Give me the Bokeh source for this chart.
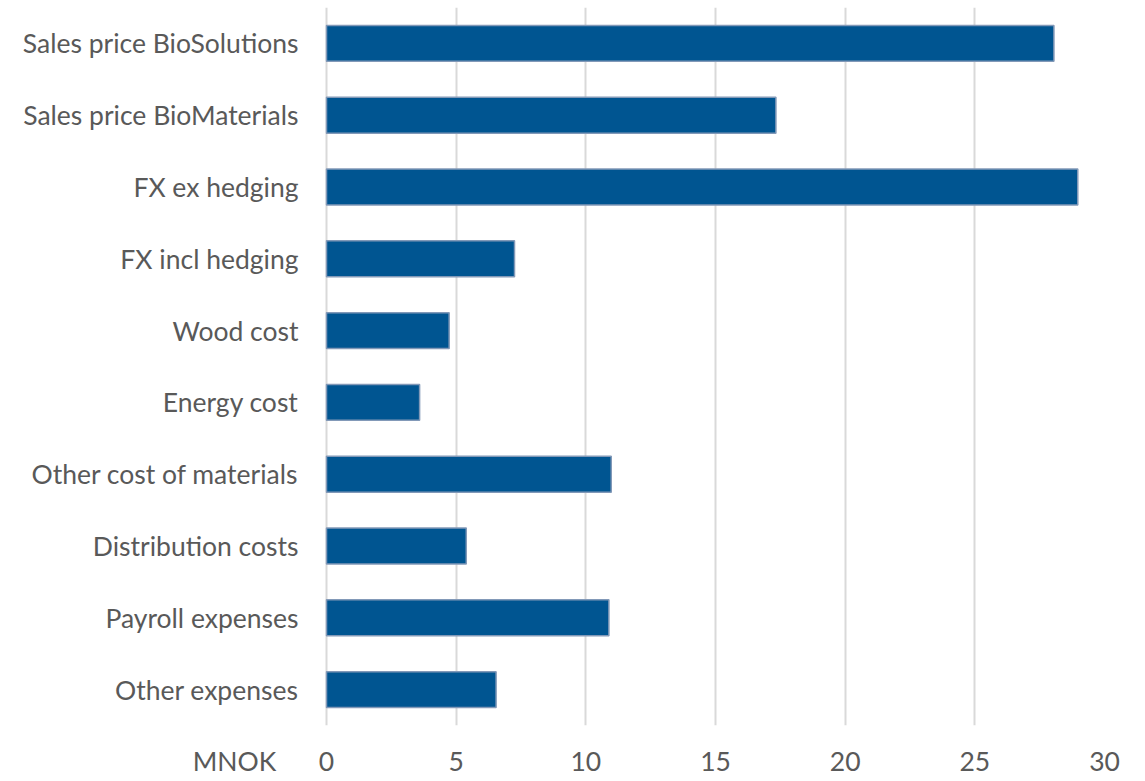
from bokeh.plotting import figure
from bokeh.models import FixedTicker, ColumnDataSource
from bokeh.core.properties import value
from bokeh.embed import file_html
from bokeh.resources import INLINE

categories = [
    "Sales price BioSolutions",
    "Sales price BioMaterials",
    "FX ex hedging",
    "FX incl hedging",
    "Wood cost",
    "Energy cost",
    "Other cost of materials",
    "Distribution costs",
    "Payroll expenses",
    "Other expenses",
]
values = [28.05, 17.33, 28.97, 7.25, 4.73, 3.59, 10.98, 5.39, 10.89, 6.54]
x_ticks = [0, 5, 10, 15, 20, 25, 30]
unit_label = "MNOK"

FONT = "Lato"
TEXT_COLOR = "#595959"
FONT_SIZE = "26.5px"

# layout constants (pixels -> data units of the value axis)
PX_PER_UNIT = 778 / 30.0
X_START = -326 / PX_PER_UNIT          # frame reaches to the left edge of the canvas
LABEL_GAP = -28 / PX_PER_UNIT         # category labels sit 28px left of zero
UNIT_POS = -92 / PX_PER_UNIT          # "MNOK" in line with the tick labels

y_factors = list(reversed(categories))
src = ColumnDataSource(dict(cat=categories, val=values,
                            lx=[LABEL_GAP] * len(categories)))

p = figure(
    width=1145, height=781,
    y_range=y_factors, x_range=(X_START, 30),
    output_backend="svg", toolbar_location=None,
    min_border_left=0, min_border_right=41,
    min_border_top=7, min_border_bottom=56,
)
p.y_range.range_padding = 0

p.hbar(y="cat", right="val", left=0, height=0.5, source=src,
       fill_color="#005591", line_color="#8299b8", line_width=1.5)

p.text(x="lx", y="cat", text="cat", source=src,
       text_font=value(FONT), text_font_size=FONT_SIZE,
       text_color=TEXT_COLOR, text_align="right", text_baseline="middle")

p.outline_line_color = None
p.background_fill_color = "white"
p.border_fill_color = "white"

p.yaxis.visible = False
p.ygrid.grid_line_color = None
p.xgrid.ticker = FixedTicker(ticks=x_ticks)
p.xgrid.grid_line_color = "#d9d9d9"
p.xgrid.grid_line_width = 2

p.xaxis.ticker = FixedTicker(ticks=[UNIT_POS] + x_ticks)
p.xaxis.major_label_overrides = {UNIT_POS: unit_label}
p.xaxis.axis_line_color = None
p.xaxis.major_tick_line_color = None
p.xaxis.minor_tick_line_color = None
p.xaxis.major_label_text_font = FONT
p.xaxis.major_label_text_color = TEXT_COLOR
p.xaxis.major_label_text_font_size = FONT_SIZE
p.xaxis.major_label_standoff = 13

open("out.html", "w").write(file_html(p, INLINE))
